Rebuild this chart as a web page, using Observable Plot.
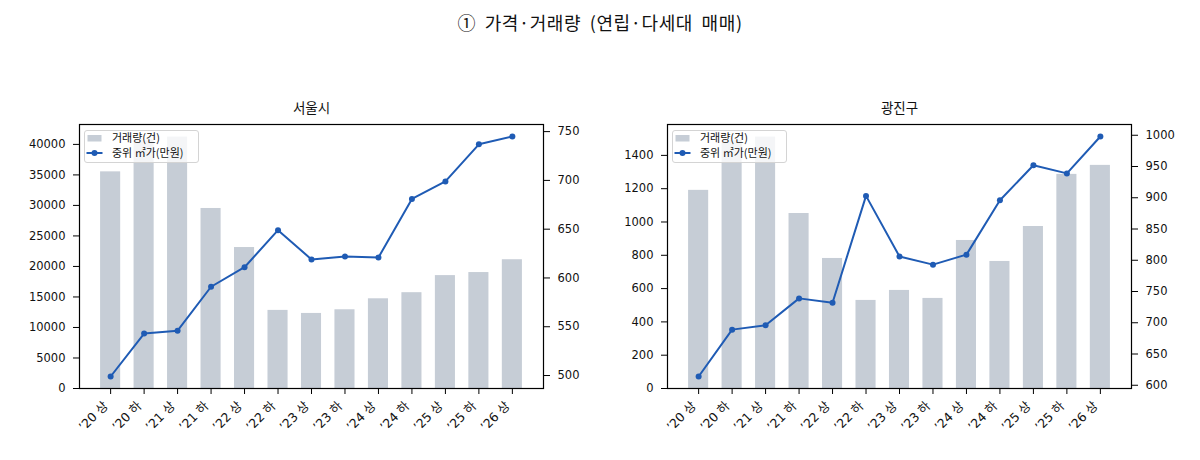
<!DOCTYPE html>
<html>
<head>
<meta charset="utf-8">
<script src="https://cdn.jsdelivr.net/npm/d3@7"></script>
<script src="https://cdn.jsdelivr.net/npm/@observablehq/plot@0.6"></script>
<style>
  body { margin: 0; background: #fff; }
  #wrap { position: relative; width: 1200px; height: 460px; overflow: hidden; }
  #title { position: absolute; top: 11px; left: 0; width: 1200px; text-align: center;
           font-family: "Noto Sans CJK KR", sans-serif; font-size: 18px; line-height: 22px; color: #111;
           letter-spacing: 0.6px; word-spacing: 4px; }
  .panel { position: absolute; top: 0; }
  .legend { position: absolute; top: 130px; }
</style>
</head>
<body>
<div id="wrap">
  <div id="title">① 가격·거래량 (연립·다세대 매매)</div>
</div>
<script>
// Half-year periods (상 = first half, 하 = second half)
const periods = ["’20 상", "’20 하", "’21 상", "’21 하", "’22 상", "’22 하", "’23 상",
                 "’23 하", "’24 상", "’24 하", "’25 상", "’25 하", "’26 상"];

// Seoul: transaction count and median price per ㎡ (10k KRW)
const seoulVolume = [35500, 40700, 41200, 29500, 23100, 12800, 12300, 12900, 14700, 15700, 18500, 19000, 21100];
const seoulPrice  = [499, 543, 546, 591, 611, 649, 619, 622, 621, 681, 699, 737, 745];

// Gwangjin-gu: transaction count and median price per ㎡ (10k KRW)
const gwangjinVolume = [1190, 1490, 1510, 1051, 781, 529, 589, 541, 889, 763, 973, 1286, 1340];
const gwangjinPrice  = [614, 689, 696, 739, 732, 903, 806, 793, 809, 896, 952, 939, 998];

// Axis tick values
const seoulVolumeTicks    = [0, 5000, 10000, 15000, 20000, 25000, 30000, 35000, 40000];
const seoulPriceTicks     = [500, 550, 600, 650, 700, 750];
const gwangjinVolumeTicks = [0, 200, 400, 600, 800, 1000, 1200, 1400];
const gwangjinPriceTicks  = [600, 650, 700, 750, 800, 850, 900, 950, 1000];

const barColor = "#c6cdd6";
const lineColor = "#1f5bb4";
const tickFont = '"DejaVu Sans", "Noto Sans CJK KR", sans-serif';
const krFont = '"Noto Sans CJK KR", sans-serif';

function panel({name, volume, price, volumeTicks, priceTicks, marginLeft, marginRight}) {
  const n = periods.length;
  const half = 0.3; // bar half-width in category units
  const vMax = d3.max(volume) * 1.05;
  const [pLo, pHi] = d3.extent(price);
  const pPad = (pHi - pLo) * 0.05;
  const p0 = pLo - pPad, p1 = pHi + pPad;
  // secondary (price) axis is mapped onto the volume scale
  const toV = p => (p - p0) / (p1 - p0) * vMax;
  const fromV = v => v / vMax * (p1 - p0) + p0;
  const xPad = (n - 1 + 2 * half) * 0.05;
  const rows = periods.map((label, i) => ({i, label, volume: volume[i], price: price[i]}));

  return Plot.plot({
    width: 600,
    height: 460,
    marginLeft,
    marginRight,
    marginTop: 124,
    marginBottom: 72,
    x: {type: "linear", domain: [-half - xPad, n - 1 + half + xPad]},
    y: {domain: [0, vMax]},
    style: {fontFamily: tickFont, fontSize: "11.5px", color: "#111", background: "transparent"},
    marks: [
      Plot.rectY(rows, {x1: d => d.i - half, x2: d => d.i + half, y: "volume", fill: barColor}),
      Plot.line(rows, {x: "i", y: d => toV(d.price), stroke: lineColor, strokeWidth: 2}),
      Plot.dot(rows, {x: "i", y: d => toV(d.price), r: 3, fill: lineColor, stroke: null}),
      Plot.frame({stroke: "#000", strokeWidth: 1.2}),
      Plot.axisY({anchor: "left", ticks: volumeTicks, tickFormat: d => String(d),
                  tickSize: 6, tickPadding: 8, label: null, stroke: "#000"}),
      Plot.axisY({anchor: "right", ticks: priceTicks.map(toV), tickFormat: v => String(Math.round(fromV(v))),
                  tickSize: 6, tickPadding: 8, label: null, stroke: "#000"}),
      Plot.axisX({ticks: d3.range(n), tickFormat: () => "", tickSize: 6, label: null, stroke: "#000"}),
      // rotated period labels, top-right corner hung just below each tick
      Plot.text(rows, {x: "i", frameAnchor: "bottom", text: "label", rotate: -45,
                       textAnchor: "end", lineAnchor: "top", dx: -8, dy: 12,
                       fontSize: 12.5, fontFamily: tickFont, fill: "#111"}),
      Plot.text([name], {frameAnchor: "top", dy: -21, text: d => d, fontSize: 13.5,
                         fontFamily: krFont, fill: "#111"})
    ]
  });
}

function legend(left) {
  const svg = d3.create("svg")
    .attr("class", "legend")
    .attr("width", 116).attr("height", 34)
    .style("left", left + "px");
  svg.append("rect").attr("x", 0.5).attr("y", 0.5).attr("width", 114).attr("height", 32)
    .attr("rx", 2.5).attr("fill", "rgba(255,255,255,0.8)").attr("stroke", "#d4d4d4");
  svg.append("rect").attr("x", 3.5).attr("y", 5).attr("width", 14).attr("height", 6.5).attr("fill", barColor);
  svg.append("line").attr("x1", 2.5).attr("x2", 18.5).attr("y1", 23).attr("y2", 23)
    .attr("stroke", lineColor).attr("stroke-width", 2);
  svg.append("circle").attr("cx", 10.5).attr("cy", 23).attr("r", 3).attr("fill", lineColor);
  const labels = ["거래량(건)", "중위 ㎡가(만원)"];
  labels.forEach((t, k) => {
    svg.append("text").attr("x", 28).attr("y", 8.5 + k * 14.5).attr("dy", "0.35em")
      .attr("font-family", krFont).attr("font-size", 11).attr("fill", "#111").text(t);
  });
  return svg.node();
}

const wrap = document.getElementById("wrap");

const left = panel({name: "서울시", volume: seoulVolume, price: seoulPrice,
                    volumeTicks: seoulVolumeTicks, priceTicks: seoulPriceTicks,
                    marginLeft: 79, marginRight: 57});
left.classList.add("panel");
left.style.left = "0px";
wrap.appendChild(left);

const right = panel({name: "광진구", volume: gwangjinVolume, price: gwangjinPrice,
                     volumeTicks: gwangjinVolumeTicks, priceTicks: gwangjinPriceTicks,
                     marginLeft: 67, marginRight: 69});
right.classList.add("panel");
right.style.left = "600px";
wrap.appendChild(right);

wrap.appendChild(legend(84));
wrap.appendChild(legend(672));
</script>
</body>
</html>
